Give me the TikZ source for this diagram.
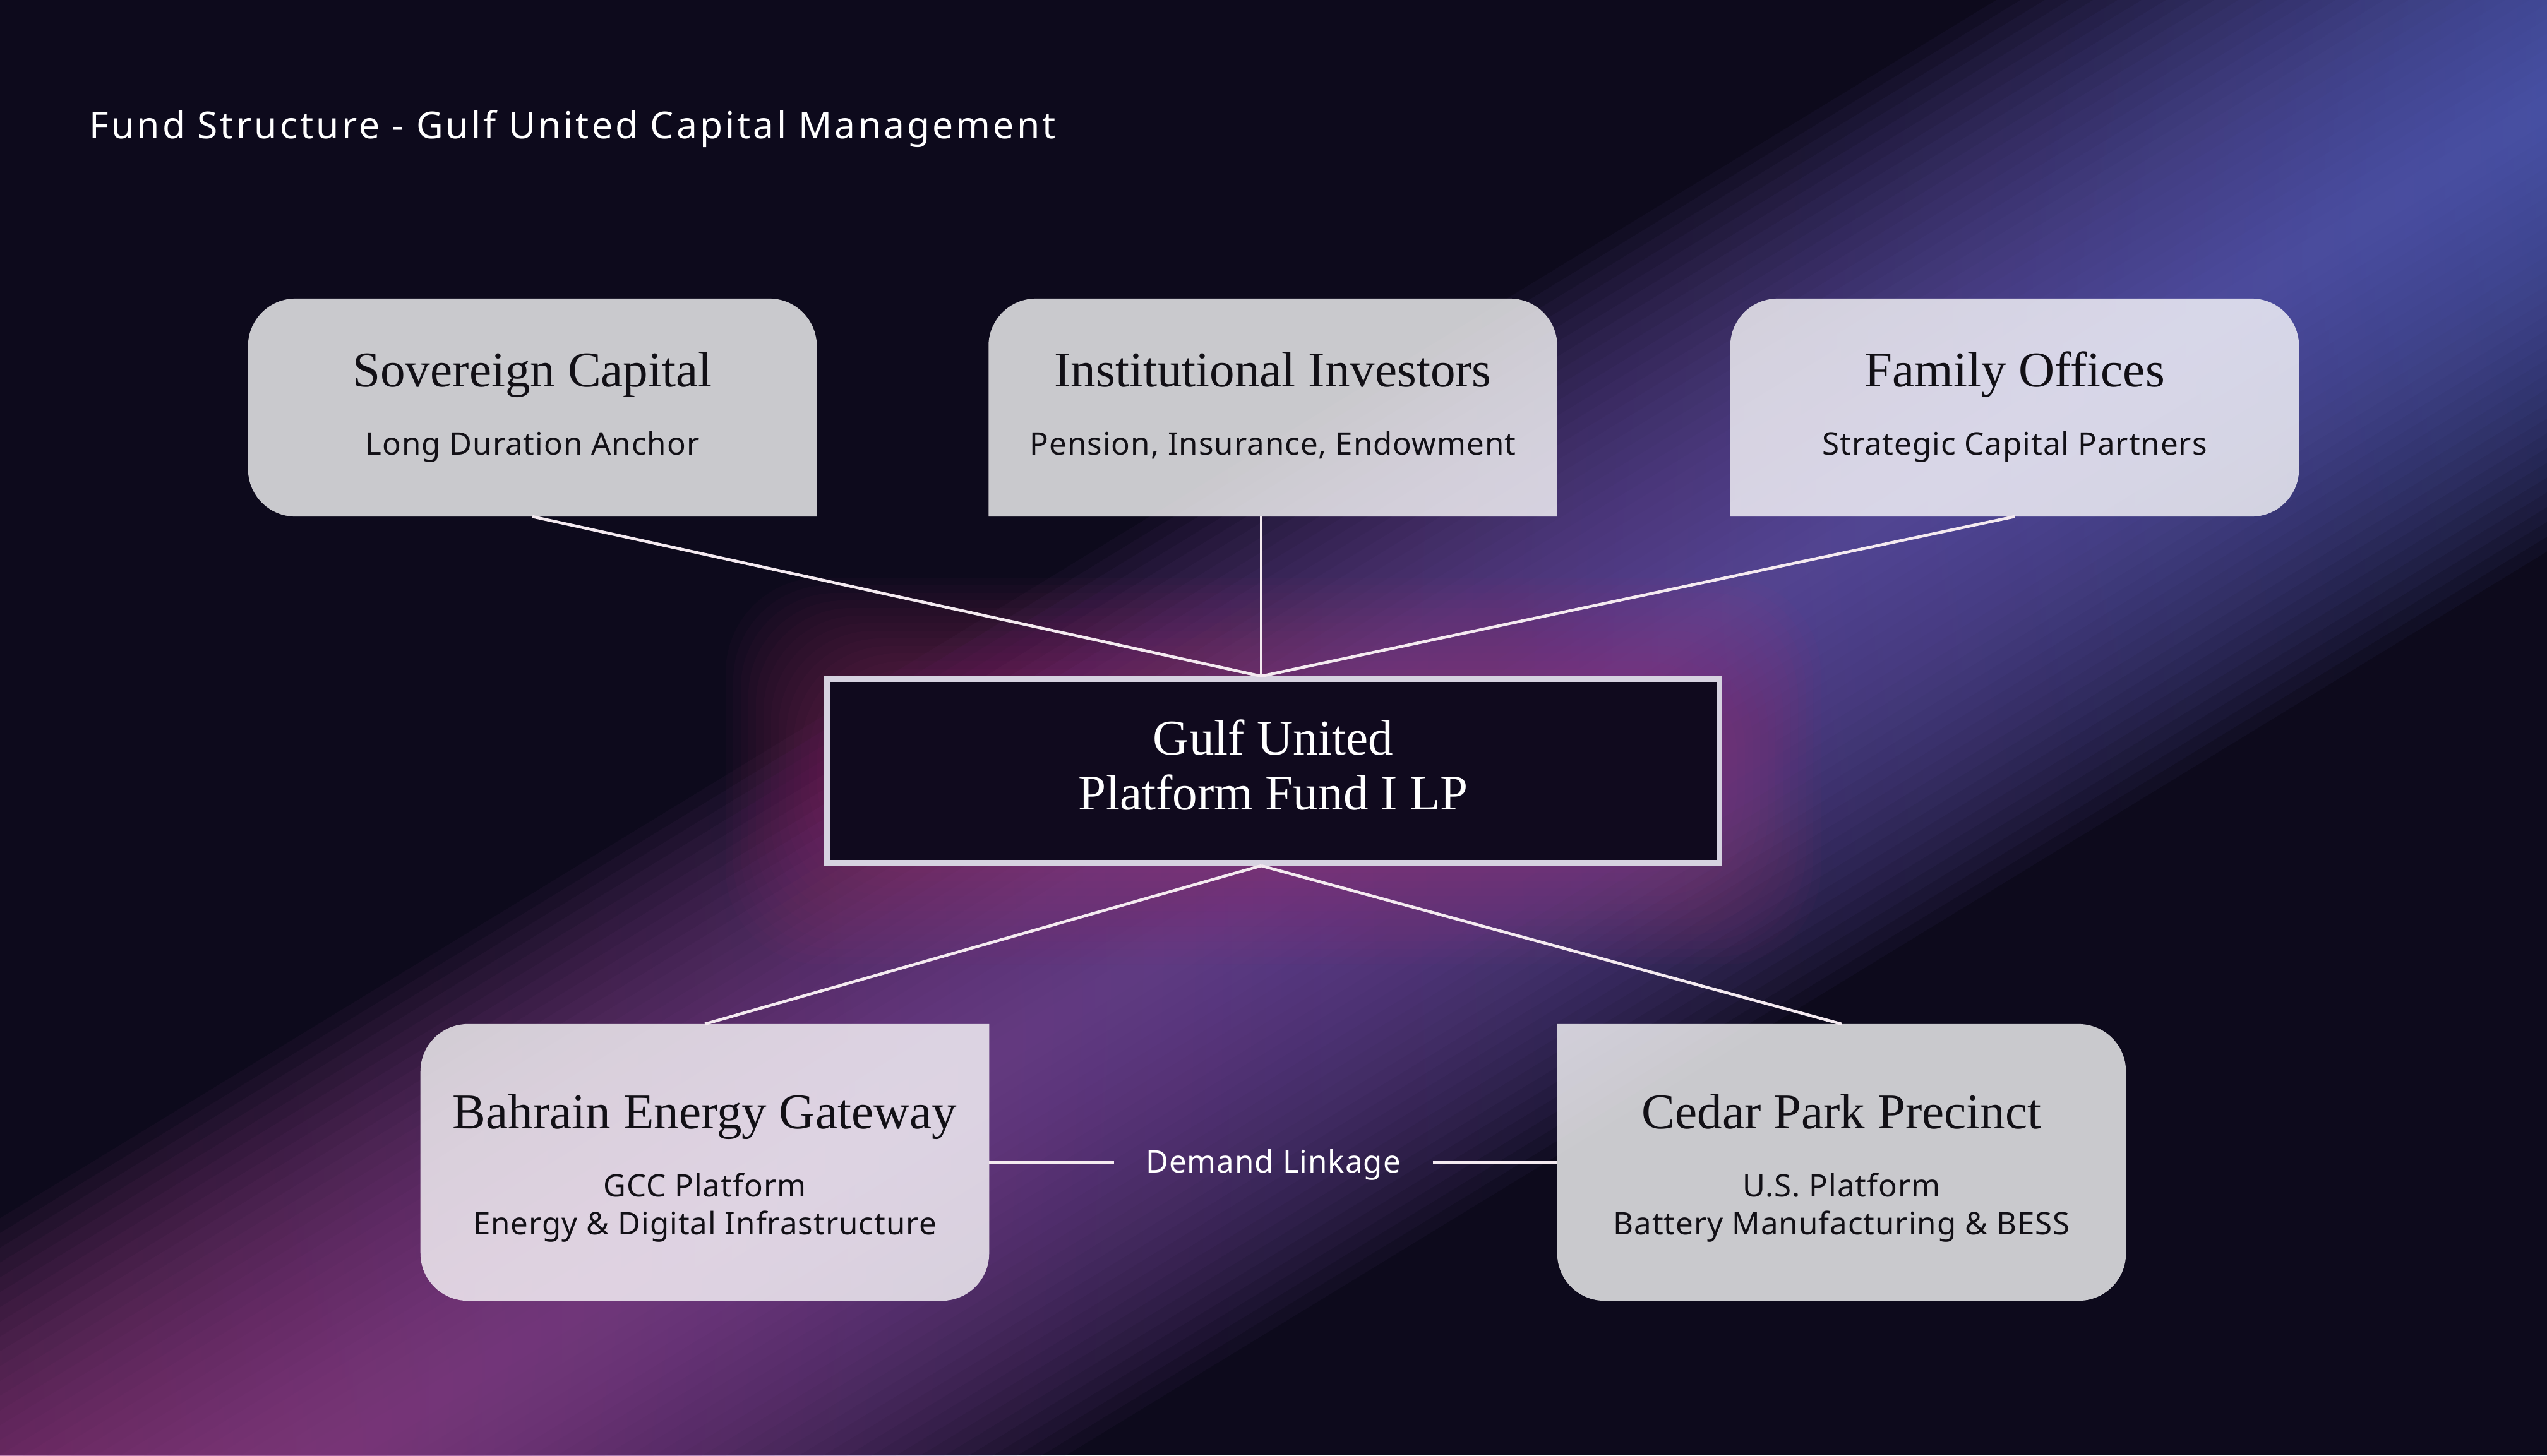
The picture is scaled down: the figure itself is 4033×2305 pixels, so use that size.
\documentclass[tikz,border=0pt]{standalone}
\usepackage{fontspec}
\setmainfont{Liberation Serif}
\newfontfamily\uisans[LetterSpace=2]{Noto Sans}
\newfontfamily\uititle[LetterSpace=7]{Noto Sans}
\usetikzlibrary{positioning, calc}

\definecolor{bgnight}{RGB}{13,10,28}
\definecolor{bandpink}{RGB}{165,62,132}
\definecolor{bandviolet}{RGB}{112,74,158}
\definecolor{bandblue}{RGB}{82,104,200}
\definecolor{glowrose}{RGB}{175,50,118}
\definecolor{cardink}{RGB}{18,16,22}
\definecolor{wireline}{RGB}{244,234,240}
\definecolor{fundfill}{RGB}{16,10,30}
\definecolor{fundrim}{RGB}{214,210,224}

% card outline, corners given as TR, BR, BL, TL
\newcommand{\cardshape}[5]{%
  \fill[cardfill] (#1.north) [#2] -- (#1.north east) [#3] -- (#1.south east) [#4]
    -- (#1.south west) [#5] -- (#1.north west) [sharp corners] -- cycle;}

\begin{document}
\begin{tikzpicture}[
    x=0.01cm, y=-0.01cm,
    card/.style={minimum width=9cm, minimum height=3.45cm, inner sep=0pt, outer sep=0pt},
    platcard/.style={minimum width=9cm, minimum height=4.38cm, inner sep=0pt, outer sep=0pt},
    cardfill/.style={fill=white, fill opacity=0.78},
    rc/.style={rounded corners=0.75cm},
    sc/.style={sharp corners},
    fundbox/.style={draw=fundrim, fill=fundfill, line width=2.56pt, minimum width=14.13cm, minimum height=2.91cm, inner sep=0pt},
    headtxt/.style={anchor=base, inner sep=0pt, text=cardink, font=\fontsize{22.5}{26}\selectfont},
    subtxt/.style={anchor=base, inner sep=0pt, text=cardink, font=\uisans\fontsize{14}{16}\selectfont},
    fundtxt/.style={anchor=base, inner sep=0pt, text=white, font=\fontsize{22.5}{26}\selectfont},
    titletxt/.style={anchor=base west, inner sep=0pt, text=white, font=\uititle\fontsize{16.7}{20}\selectfont},
    linktxt/.style={anchor=base, inner xsep=0.5cm, inner ysep=0pt, text=white, font=\uisans\fontsize{14}{16}\selectfont},
    wire/.style={draw=wireline, line width=1.3pt}
]

\useasboundingbox (0,0) rectangle (4033,2305);

% backdrop
\fill[bgnight] (0,0) rectangle (4033,2305);
\begin{scope}
  \clip (0,0) rectangle (4033,2305);
  \begin{scope}[shift={(2050,1381)}, rotate=31.4]
    \foreach \w in {20,40,...,600}
      \shade[left color=bandpink, right color=bandblue, middle color=bandviolet, fill opacity=0.062] (-2600,-\w) rectangle (2600,\w);
  \end{scope}
  \foreach \g in {12,24,...,156}
    \fill[glowrose, fill opacity=0.035, rounded corners=1.5cm] (1305-\g,1071-\g) rectangle (2727+\g,1371+\g);
\end{scope}

% investors
\node[card] (sov) at (843,645.5) {};
\node[card] (inst) at (2015.5,645.5) {};
\node[card] (fam) at (3190,645.5) {};
\cardshape{sov}{rc}{sc}{rc}{rc}
\cardshape{inst}{rc}{sc}{sc}{rc}
\cardshape{fam}{rc}{rc}{sc}{rc}

\node[headtxt] (sovname) at ([yshift=-1.40cm]sov.north) {Sovereign Capital};
\node[subtxt] (sovnote) at ([yshift=-2.47cm]sov.north) {Long Duration Anchor};
\node[headtxt] (instname) at ([yshift=-1.40cm]inst.north) {Institutional Investors};
\node[subtxt] (instnote) at ([yshift=-2.47cm]inst.north) {Pension, Insurance, Endowment};
\node[headtxt] (famname) at ([yshift=-1.40cm]fam.north) {Family Offices};
\node[subtxt] (famnote) at ([yshift=-2.47cm]fam.north) {Strategic Capital Partners};

% fund
\node[fundbox] (fund) at (2016,1221) {};
\node[fundtxt] (fundname) at ([yshift=-1.24cm]fund.north) {Gulf United};
\node[fundtxt] (fundlegal) at ([yshift=-2.11cm]fund.north) {Platform Fund I LP};

% platforms
\node[platcard] (bahrain) at (1116,1841) {};
\node[platcard] (cedar) at (2916,1841) {};
\cardshape{bahrain}{sc}{rc}{rc}{rc}
\cardshape{cedar}{rc}{rc}{rc}{sc}

\node[headtxt] (bahrainname) at ([yshift=-1.65cm]bahrain.north) {Bahrain Energy Gateway};
\node[subtxt] (bahrainnote) at ([yshift=-2.73cm]bahrain.north) {GCC Platform};
\node[subtxt] (bahrainscope) at ([yshift=-3.33cm]bahrain.north) {Energy \& Digital Infrastructure};
\node[headtxt] (cedarname) at ([yshift=-1.65cm]cedar.north) {Cedar Park Precinct};
\node[subtxt] (cedarnote) at ([yshift=-2.73cm]cedar.north) {U.S. Platform};
\node[subtxt] (cedarscope) at ([yshift=-3.33cm]cedar.north) {Battery Manufacturing \& BESS};

\node[titletxt] (title) at (141,219) {Fund Structure - Gulf United Capital Management};

% connectors
\coordinate (hubN) at ([xshift=-0.19cm]fund.north);
\coordinate (hubS) at ([xshift=-0.19cm]fund.south);
\draw[wire] (sov.south) -- (hubN);
\draw[wire] (inst.south -| hubN) -- (hubN);
\draw[wire] (fam.south) -- (hubN);
\draw[wire] (hubS) -- (bahrain.north);
\draw[wire] (hubS) -- (cedar.north);

\node[linktxt] (link) at (2016,1857) {Demand Linkage};
\draw[wire] (bahrain.east) -- (bahrain.east -| link.west);
\draw[wire] (link.east |- cedar.west) -- (cedar.west);

\end{tikzpicture}
\end{document}
